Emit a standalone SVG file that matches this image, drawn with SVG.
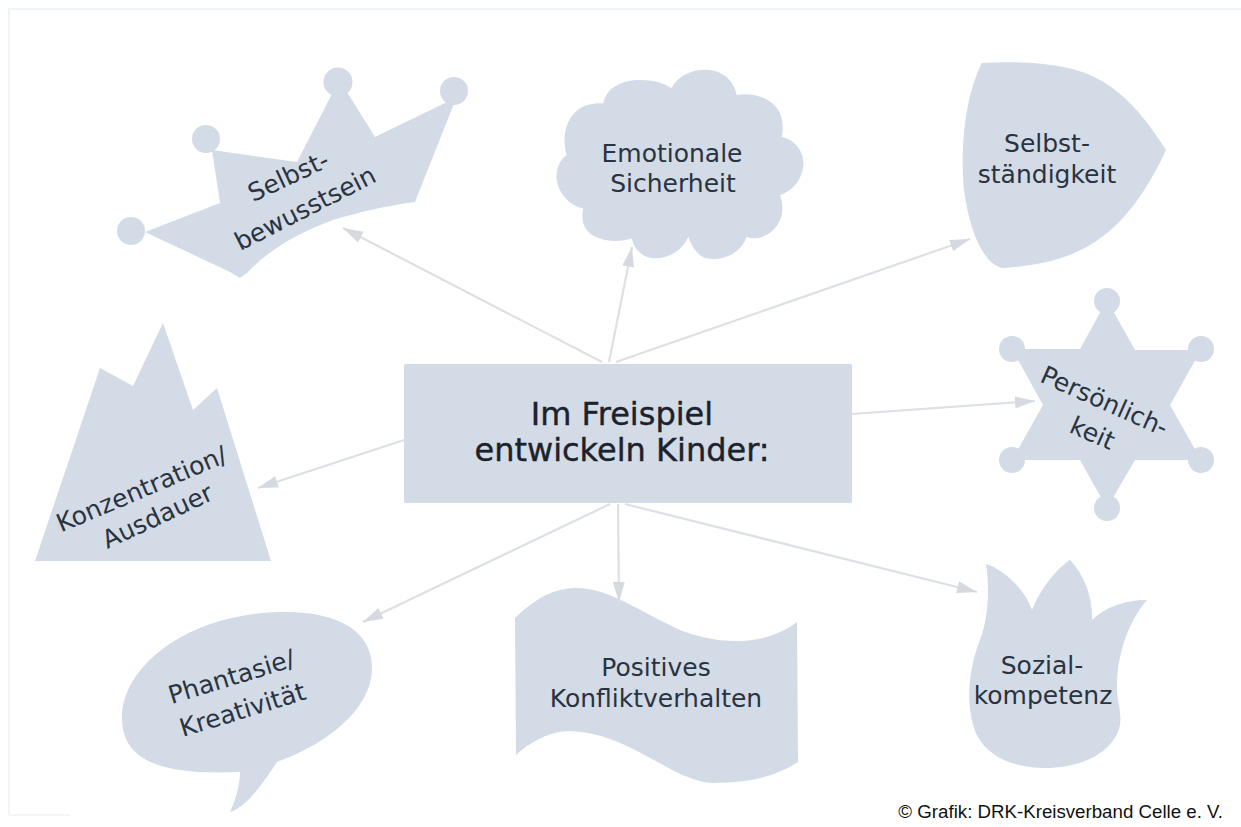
<svg xmlns="http://www.w3.org/2000/svg" width="1241" height="827" viewBox="0 0 1241 827">
<style>
.s{fill:#d3dbe7;stroke:none}
.t{font-family:"DejaVu Sans",Verdana,sans-serif;font-size:25px;fill:#2a3340;text-anchor:middle}
.c{stroke:#dde0e5;stroke-width:2.2;fill:none;marker-end:url(#a)}
</style>
<defs><marker id="a" markerUnits="userSpaceOnUse" markerWidth="22" markerHeight="14" refX="20" refY="7" orient="auto"><path d="M0 1L20 7L0 13z" fill="#d6dae0"/></marker></defs>
<rect width="1241" height="827" fill="#fff"/>
<path d="M9 815V9H1241" fill="none" stroke="#eaf2f8" stroke-width="1.5"/>
<path d="M9 815H70" fill="none" stroke="#f3f5f6" stroke-width="2"/>
<g id="center"><rect class="s" x="404" y="364" width="448" height="139" rx="2"/>
<text class="t" style="font-size:32px;fill:#1c222b;stroke:#1c222b;stroke-width:.4"><tspan x="622" y="425">Im Freispiel</tspan><tspan x="622" y="461">entwickeln Kinder:</tspan></text></g>
<g id="selbstbewusstsein">
<path class="s" d="M145 232L220 203L212 150L297 162L333 92L347 92L375 137L447 102L457 96L415 202C385 206 360 212 333 220C300 232 268 250 247 273L240 278L230 272z"/>
<circle class="s" cx="131" cy="231" r="14"/><circle class="s" cx="206" cy="139" r="14"/><circle class="s" cx="338" cy="82" r="14.5"/><circle class="s" cx="454" cy="91" r="14"/>
<text class="t" transform="translate(292 184) rotate(-25)">Selbst-</text>
<text class="t" transform="translate(309 216) rotate(-27)">bewusstsein</text></g>
<g id="sicherheit">
<path class="s" transform="translate(540 55) scale(.3333)" d="M395 100C415 55 470 40 510 45C555 50 585 85 590 120C640 110 700 130 720 175C730 200 730 225 725 245C765 255 795 290 790 335C785 375 755 410 720 420C740 470 720 530 660 548C645 552 630 550 620 545C600 600 540 620 500 610C475 604 455 575 445 545C420 600 360 620 320 605C295 595 280 575 275 550C230 565 170 560 140 525C125 505 125 480 130 460C80 450 45 400 50 355C53 330 65 310 80 300C65 250 75 190 120 160C140 147 170 143 190 145C200 95 250 75 300 75C340 75 375 85 395 100z"/>
<text class="t"><tspan x="672" y="162">Emotionale</tspan><tspan x="673" y="192">Sicherheit</tspan></text></g>
<g id="selbststaendigkeit">
<path class="s" d="M982 63C1030 60 1075 65 1100 80C1130 97 1150 125 1166 150C1150 185 1125 225 1090 245C1065 260 1035 266 1003 268C985 265 970 235 964 190C960 150 965 95 982 63z"/>
<text class="t"><tspan x="1047" y="152">Selbst-</tspan><tspan x="1047" y="183">ständigkeit</tspan></text></g>
<g id="persoenlichkeit">
<path class="s" d="M1107 300L1135 350H1201L1170 405L1201 460H1135L1107 508L1080 460H1012L1043 405L1012 349H1080z"/>
<circle class="s" cx="1107" cy="301" r="13"/><circle class="s" cx="1012" cy="349" r="13"/><circle class="s" cx="1201" cy="349" r="13"/><circle class="s" cx="1012" cy="460" r="13"/><circle class="s" cx="1201" cy="460" r="13"/><circle class="s" cx="1107" cy="508" r="13"/>
<text class="t" transform="translate(1101 409) rotate(24)">Persönlich-</text>
<text class="t" transform="translate(1089 441) rotate(24)">keit</text></g>
<g id="konzentration">
<path class="s" d="M35 561L100 368L133 386L163 323L193 410L217 388L271 561z"/>
<text class="t" transform="translate(145 497) rotate(-23)">Konzentration/</text>
<text class="t" transform="translate(161 524) rotate(-25)">Ausdauer</text></g>
<g id="phantasie">
<path class="s" d="M122 718C122 665 190 612 285 612C340 612 372 632 372 668C372 710 325 745 277 762C262 785 245 808 230 812C238 795 240 780 240 772C170 775 122 765 122 718z"/>
<text class="t" transform="translate(234 685) rotate(-17)">Phantasie/</text>
<text class="t" transform="translate(245 718) rotate(-17)">Kreativität</text></g>
<g id="konflikt">
<path class="s" d="M515 618C535 598 555 588 575 588C610 588 640 612 680 630C710 642 760 650 797 622L798 762C770 780 740 783 712 783C670 780 630 733 570 731C550 731 530 742 516 755z"/>
<text class="t"><tspan x="656" y="676">Positives</tspan><tspan x="656" y="707">Konfliktverhalten</tspan></text></g>
<g id="sozial">
<path class="s" d="M986 564C1005 570 1025 590 1032 610C1040 590 1055 570 1070 560C1085 575 1093 600 1092 620C1105 607 1125 600 1147 600C1130 620 1118 650 1117 683C1116 700 1122 710 1120 725C1115 750 1085 768 1045 768C1005 768 975 750 971 715C966 690 972 660 980 640C988 620 990 590 986 564z"/>
<text class="t"><tspan x="1042" y="674">Sozial-</tspan><tspan x="1043" y="704">kompetenz</tspan></text></g>
<g id="connectors">
<path class="c" d="M602 362L343 228"/>
<path class="c" d="M609 362L632 247"/>
<path class="c" d="M616 362L970 239"/>
<path class="c" d="M852 414L1035 401"/>
<path class="c" d="M404 440L258 488"/>
<path class="c" d="M610 504L363 622"/>
<path class="c" d="M618 504L619 602"/>
<path class="c" d="M625 504L977 592"/>
</g>
<text x="1223" y="818" text-anchor="end" style="font-family:'Liberation Sans',Arial,sans-serif;font-size:18.7px;fill:#111">© Grafik: DRK-Kreisverband Celle e. V.</text>
</svg>
